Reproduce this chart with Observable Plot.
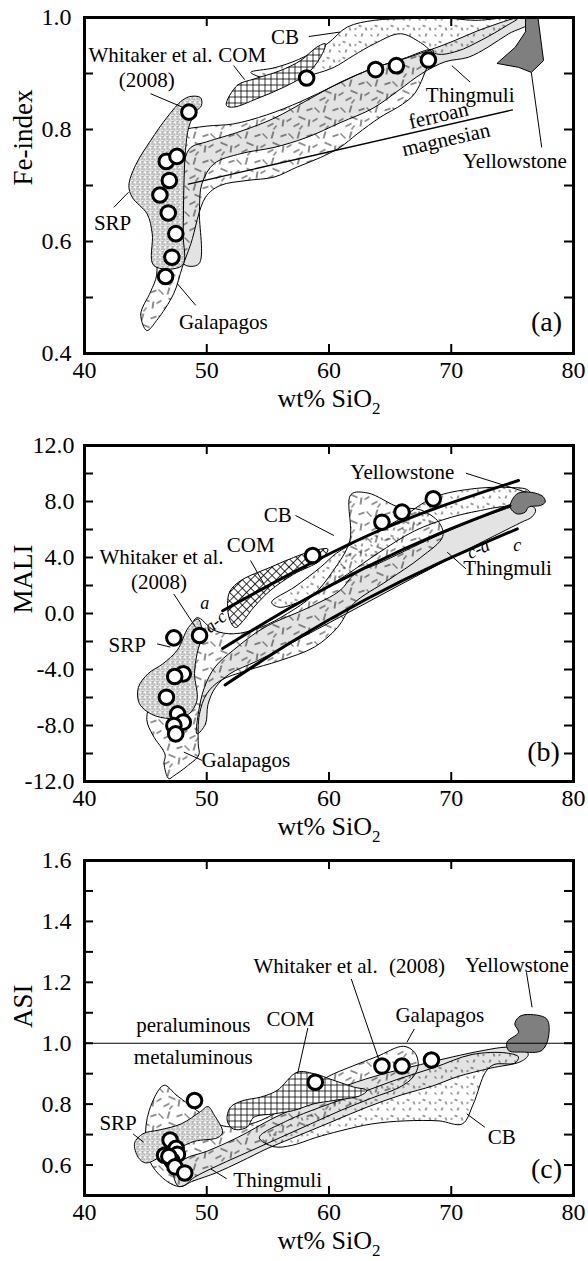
<!DOCTYPE html>
<html><head><meta charset="utf-8">
<script src="https://cdn.jsdelivr.net/npm/d3@7"></script>
<script src="https://cdn.jsdelivr.net/npm/@observablehq/plot@0.6"></script>
<style>
body{margin:0;background:#fff;}
#chart svg{display:block;overflow:visible;}
</style></head><body><div id="chart"></div>
<script>
// ---------- shared axis values ----------
const xDomain = [40, 80];
const xLabelTicks = [40, 50, 60, 70, 80];
const xInnerTicks = [50, 60, 70];

// ---------- panel (a) Fe-index ----------
const feDomain = [0.4, 1.0];
const feLabelTicks = [0.4, 0.6, 0.8, 1.0];
const feInnerTicks = [0.5, 0.6, 0.7, 0.8, 0.9];
const whitakerA = [[48.54,0.831],[46.69,0.743],[47.56,0.752],[46.94,0.709],[46.17,0.683],[46.85,0.651],[47.47,0.614],[47.15,0.572],[46.63,0.5375],[58.17,0.892],[63.81,0.907],[65.51,0.914],[68.13,0.924]];
const thingmuliA = [[48.1,0.56],[48.1,0.66],[48.2,0.745],[48.7,0.768],[50.0,0.778],[52.8,0.797],[55.5,0.82],[58.2,0.852],[60.9,0.884],[63.7,0.91],[66.4,0.928],[69.5,0.952],[73.0,0.983],[76.0,1.0],[76.4,0.99],[74.7,0.971],[73.0,0.947],[71.4,0.929],[69.5,0.921],[67.6,0.9],[65.7,0.87],[63.6,0.838],[60.9,0.812],[58.2,0.786],[55.5,0.768],[52.8,0.757],[50.6,0.739],[49.6,0.703],[49.4,0.655],[49.35,0.56]];
const galapagosA = [[45.1,0.441],[44.6,0.47],[45.4,0.51],[45.9,0.54],[45.7,0.614],[45.5,0.673],[45.7,0.75],[46.2,0.78],[47.6,0.797],[50.0,0.806],[52.2,0.81],[54.9,0.826],[57.7,0.85],[60.4,0.878],[63.1,0.905],[66.0,0.926],[68.5,0.942],[68.0,0.91],[67.0,0.864],[66.0,0.845],[64.2,0.822],[62.3,0.792],[60.9,0.768],[59.3,0.75],[57.4,0.733],[55.5,0.715],[53.3,0.709],[51.1,0.70],[49.9,0.679],[48.7,0.596],[48.0,0.554],[47.3,0.507],[45.9,0.459]];
const cbA = [[53.6,0.902],[55.5,0.91],[57.5,0.925],[59.85,0.953],[61.5,0.983],[63.7,0.995],[66.4,0.998],[69.0,1.0],[72.0,0.995],[75.5,1.0],[74.5,0.985],[72.5,0.96],[70.5,0.94],[68.8,0.935],[67.5,0.955],[65.85,0.971],[63.7,0.953],[62.0,0.932],[60.4,0.911],[58.8,0.899],[57.1,0.89],[55.5,0.8875]];
const comA = [[51.6,0.843],[52.5,0.879],[53.85,0.89],[56.0,0.905],[57.67,0.923],[59.0,0.947],[59.7,0.953],[59.3,0.929],[58.2,0.8995],[56.3,0.8755],[54.1,0.855],[52.2,0.84]];
const srpA = [[47.99,0.852],[48.67,0.859],[49.49,0.857],[49.57,0.843],[49.08,0.831],[48.53,0.804],[48.26,0.7625],[48.13,0.697],[48.07,0.614],[47.99,0.557],[45.67,0.557],[45.54,0.614],[45.13,0.649],[43.9,0.679],[43.63,0.70],[44.17,0.736],[45.4,0.78],[46.76,0.822]];
const yellowstoneA = [[76.11,0.998],[77.09,1.0],[77.55,0.923],[76.55,0.902],[75.51,0.911],[73.74,0.918],[75.24,0.947],[76.06,0.974]];
const ferroanBoundary = [[48.5,0.7025],[75.0,0.835]];
const labelsA = [
  {t:"CB", x:56.4, y:0.965},
  {t:"Whitaker et al.", x:45.4, y:0.932},
  {t:"COM", x:52.9, y:0.932},
  {t:"(2008)", x:45.1, y:0.8875},
  {t:"SRP", x:42.3, y:0.632},
  {t:"Galapagos", x:51.35, y:0.456},
  {t:"Thingmuli", x:71.55, y:0.861},
  {t:"Yellowstone", x:75.2, y:0.743}
];
const rotatedLabelsA = [{t:"ferroan", x:68.96, y:0.825}, {t:"magnesian", x:69.56, y:0.782}];
const leadersA = [[58.35,0.966,60.9,0.974],[52.2,0.914,53.1,0.889],[45.4,0.864,48.0,0.84],[42.4,0.661,43.6,0.688],[47.6,0.5245,49.1,0.486],[71.55,0.8845,70.05,0.914],[77.4,0.768,76.55,0.902]];

// ---------- panel (b) MALI ----------
const maliDomain = [-12, 12];
const maliLabelTicks = [-12, -8, -4, 0, 4, 8, 12];
const maliInnerTicks = [-10, -8, -6, -4, -2, 0, 2, 4, 6, 8, 10];
const whitakerB = [[47.31,-1.74],[49.41,-1.57],[48.08,-4.31],[47.38,-4.5],[46.7,-5.98],[47.62,-7.17],[48.08,-7.76],[47.31,-8.0],[47.46,-8.6],[58.66,4.14],[64.33,6.52],[65.97,7.24],[68.53,8.19]];
const thingmuliB = [[49.2,-8.6],[49.9,-7.9],[50.1,-6.5],[50.7,-5.3],[51.9,-4.3],[54.1,-3.4],[57.8,-1.7],[62.4,0.45],[67.0,2.6],[71.7,4.74],[75.7,6.5],[76.6,6.9],[76.9,7.4],[76.3,7.8],[73.2,7.1],[68.6,5.45],[64.0,3.55],[62.1,2.83],[60.9,1.64],[58.4,0.45],[54.7,-1.0],[52.2,-2.6],[50.7,-3.8],[49.8,-5.3],[49.3,-7.2]];
const galapagosB = [[46.9,-11.8],[46.5,-10.7],[46.6,-10.1],[45.6,-8.7],[45.1,-7.6],[45.5,-6.0],[46.2,-4.55],[47.6,-3.4],[48.5,-1.5],[49.2,-0.3],[50.6,-1.2],[52.2,-1.45],[54.4,-1.0],[56.6,0.0],[58.7,1.3],[60.3,3.0],[61.7,5.2],[61.8,8.5],[63.2,8.6],[65.7,7.6],[67.5,7.4],[69.0,6.5],[69.3,5.5],[67.5,4.0],[64.8,2.36],[62.0,0.7],[60.7,-1.0],[58.8,-2.4],[56.0,-3.36],[53.3,-4.07],[51.1,-4.8],[50.0,-5.74],[49.4,-7.2],[49.3,-9.3],[49.35,-10.1],[48.4,-10.9],[47.3,-11.6]];
const cbB = [[55.3,0.8],[57.2,1.9],[59.3,3.3],[60.6,4.3],[62.4,5.2],[65.5,6.6],[68.6,8.3],[71.7,8.9],[74.8,9.0],[76.3,8.8],[76.6,8.1],[73.2,7.5],[70.1,6.9],[67.0,5.9],[64.0,4.3],[61.5,2.8],[59.3,1.6],[57.5,0.8],[55.9,0.45]];
const comB = [[51.7,0.7],[51.9,1.6],[52.8,2.36],[55.2,3.3],[57.1,4.0],[58.8,4.5],[59.9,4.6],[59.3,3.8],[57.1,2.8],[55.2,1.64],[53.85,0.45],[53.0,-0.5],[52.35,-1.0],[51.9,-0.5]];
const srpB = [[49.3,-0.4],[49.6,-1.45],[49.2,-2.9],[49.0,-4.3],[49.2,-6.2],[48.5,-7.2],[47.0,-7.5],[45.5,-7.2],[44.5,-6.45],[44.4,-5.3],[45.2,-4.3],[46.4,-3.6],[47.6,-2.6],[48.5,-1.0]];
const yellowstoneB = [[75.23,8.43],[75.77,8.67],[76.86,8.6],[77.55,8.31],[77.68,7.95],[77.27,7.71],[76.32,7.6],[76.05,7.24],[75.36,7.12],[74.82,7.6]];
const maliAlkalic = [[51.3,0.2],[57,2.9],[63,5.5],[69,7.6],[75.5,9.5]];
const maliAlkaliCalcic = [[51.3,-2.5],[57,0.5],[63,3.3],[69,5.7],[74.8,7.7]];
const maliCalcAlkalic = [[51.5,-5.1],[57,-2.0],[63,1.0],[69,3.6],[75.4,6.05]];
const labelsB = [
  {t:"Yellowstone", x:66.0, y:10.1},
  {t:"CB", x:55.8, y:7.05},
  {t:"COM", x:53.6, y:4.86},
  {t:"Whitaker et al.", x:46.3, y:4.0},
  {t:"(2008)", x:46.1, y:2.2},
  {t:"SRP", x:43.5, y:-2.3},
  {t:"Galapagos", x:53.2, y:-10.5},
  {t:"Thingmuli", x:74.6, y:3.25}
];
const fieldLetters = [{t:"a", x:49.84, y:0.7, r:0},{t:"a-c", x:50.7, y:-0.6, r:-40},{t:"c-a", x:72.2, y:4.6, r:-25},{t:"c", x:75.4, y:4.86, r:0}];
const leadersB = [[71.2,10.02,76.1,8.67],[57.26,7.0,60.4,5.57],[53.58,3.79,54.67,2.12],[47.3,1.4,49.1,-1.0],[45.94,-2.17,47.03,-2.4],[49.63,-10.5,48.13,-9.9],[71.2,3.19,69.67,4.38]];

// ---------- panel (c) ASI ----------
const asiDomain = [0.5, 1.6];
const asiLabelTicks = [0.6, 0.8, 1.0, 1.2, 1.4, 1.6];
const asiInnerTicks = [0.6, 0.7, 0.8, 0.9, 1.0, 1.1, 1.2, 1.3, 1.4, 1.5];
const whitakerC = [[49.0,0.812],[47.0,0.682],[47.5,0.655],[46.55,0.632],[47.6,0.635],[47.15,0.614],[46.9,0.628],[47.4,0.594],[48.2,0.574],[58.88,0.872],[64.33,0.925],[65.97,0.925],[68.38,0.945]];
const thingmuliC = [[47.7,0.53],[48.9,0.548],[50.8,0.575],[52.8,0.612],[55.0,0.655],[57.7,0.70],[60.4,0.745],[63.1,0.79],[65.9,0.83],[68.5,0.86],[70.5,0.89],[73.2,0.918],[75.7,0.94],[76.3,0.962],[76.0,0.98],[74.5,0.987],[72.6,0.976],[70.1,0.955],[67.5,0.93],[64.5,0.90],[61.5,0.862],[58.5,0.81],[55.5,0.755],[52.5,0.69],[50.0,0.645],[48.2,0.62],[47.3,0.58]];
const cbC = [[54.3,0.69],[55.5,0.66],[57.0,0.665],[58.9,0.69],[60.9,0.712],[63.5,0.735],[66.2,0.745],[69.0,0.745],[70.9,0.735],[71.8,0.80],[72.8,0.905],[73.5,0.93],[75.2,0.935],[75.5,0.955],[74.5,0.968],[71.7,0.963],[68.6,0.92],[65.5,0.88],[62.4,0.834],[59.3,0.79],[56.6,0.746]];
const galapagosC = [[46.5,0.862],[47.5,0.83],[48.5,0.80],[49.5,0.77],[50.5,0.74],[52.0,0.725],[54.0,0.74],[56.0,0.78],[58.0,0.84],[59.9,0.89],[61.8,0.923],[63.9,0.956],[66.1,0.99],[67.0,0.97],[67.3,0.93],[66.9,0.89],[65.8,0.856],[63.5,0.82],[61.0,0.78],[58.5,0.735],[56.0,0.69],[53.5,0.645],[51.0,0.60],[49.0,0.56],[48.0,0.53],[47.0,0.54],[45.5,0.60],[45.0,0.68],[45.3,0.78]];
const comC = [[51.94,0.79],[53.0,0.812],[54.4,0.823],[55.76,0.845],[57.4,0.905],[58.76,0.90],[60.4,0.878],[62.03,0.856],[63.1,0.845],[62.57,0.828],[60.4,0.812],[58.76,0.801],[57.1,0.779],[55.5,0.768],[53.85,0.757],[53.3,0.724],[52.2,0.718],[51.67,0.746]];
const srpC = [[44.1,0.672],[44.8,0.703],[46.1,0.715],[47.9,0.735],[49.5,0.776],[50.1,0.792],[50.6,0.765],[51.3,0.708],[50.9,0.69],[49.0,0.678],[47.7,0.655],[46.2,0.626],[45.0,0.607],[44.4,0.625]];
const yellowstoneC = [[75.5,1.085],[76.1,1.094],[77.8,1.08],[77.95,1.02],[77.4,0.976],[75.8,0.971],[74.7,0.976],[74.55,1.003],[75.5,1.036],[75.2,1.063]];
const aluminaBoundary = [1.0];
const labelsC = [
  {t:"peraluminous", x:48.9, y:1.058},
  {t:"metaluminous", x:48.9, y:0.954},
  {t:"COM", x:56.85, y:1.08},
  {t:"Whitaker et al.", x:58.9, y:1.252},
  {t:"(2008)", x:67.2, y:1.252},
  {t:"Yellowstone", x:75.37, y:1.255},
  {t:"Galapagos", x:69.06, y:1.091},
  {t:"SRP", x:42.75, y:0.738},
  {t:"Thingmuli", x:55.8, y:0.549},
  {t:"CB", x:74.14, y:0.691}
];
const leadersC = [[61.82,1.211,64.13,0.94],[76.15,1.233,76.61,1.118],[66.98,1.047,66.37,1.003],[58.27,1.05,57.43,0.9],[43.98,0.702,44.84,0.675],[51.63,0.555,50.34,0.587],[72.75,0.724,71.27,0.768]];

// ---------- drawing helpers ----------
const W = 588, ML = 84, MR = 15;
const FW = W - ML - MR;
const SERIF = "'Liberation Serif', 'Times New Roman', serif";

function patternDefs(s, comRotate) {
  return `
  <pattern id="gal${s}" patternUnits="userSpaceOnUse" width="26" height="26">
    <path d="M2,3 l5,5 M13,1 l-2,7 M20,6 l6,-2 M5,14 l-5,3 M12,12 l7,3 M23,15 l-1,7 M7,22 l6,-3 M16,21 l-3,4" stroke="#000" stroke-width="0.9" fill="none"/>
  </pattern>
  <pattern id="cb${s}" patternUnits="userSpaceOnUse" width="16" height="16">
    <path d="M2,2 l2,2 M10,1 l-1,3 M6,9 l3,1 M13,11 l1,3 M2,13 l2,-1" stroke="#000" stroke-width="0.8" fill="none"/>
  </pattern>
  <pattern id="srp${s}" patternUnits="userSpaceOnUse" width="5" height="5">
    <rect width="5" height="5" fill="#fff"/>
    <path d="M0.4,0.6 l1.3,1.1 M3.3,0.3 l-0.9,1.5 M0.8,3.3 l1.6,0.5 M3.6,2.9 l0.6,1.6" stroke="#000" stroke-width="0.75" fill="none"/>
  </pattern>
  <pattern id="com${s}" patternUnits="userSpaceOnUse" width="6" height="6" ${comRotate ? 'patternTransform="rotate(45)"' : ''}>
    <rect width="6" height="6" fill="#fff"/>
    <path d="M0,0.5 H6 M0.5,0 V6" stroke="#000" stroke-width="0.8" fill="none"/>
  </pattern>`;
}

const poly = (pts, o) => Plot.line(pts, {x: d => d[0], y: d => d[1], curve: "catmull-rom-closed", stroke: "black", strokeWidth: 1, clip: true, ...o});
const dots = pts => Plot.dot(pts, {x: d => d[0], y: d => d[1], r: 7.3, fill: "white", stroke: "black", strokeWidth: 3});
const leaders = L => Plot.link(L, {x1: d => d[0], y1: d => d[1], x2: d => d[2], y2: d => d[3], stroke: "black", strokeWidth: 1});
const labels = (L, o = {}) => Plot.text(L, {x: "x", y: "y", text: "t", fontSize: 21, fill: "black", ...o});

function frameTicks(yTicks, fh) {
  return [
    Plot.tickX(xInnerTicks, {x: d => d, insetTop: fh - 9, strokeWidth: 2}),
    Plot.tickX(xInnerTicks, {x: d => d, insetBottom: fh - 9, strokeWidth: 2}),
    Plot.tickY(yTicks, {y: d => d, insetRight: FW - 9, strokeWidth: 2}),
    Plot.tickY(yTicks, {y: d => d, insetLeft: FW - 9, strokeWidth: 2})
  ];
}

function makePanel({height, marginTop, marginBottom, yDomain, yLabelTicks, yInnerTicks, yPad, yTitle, tag, tagDx, tagDy, marks, sfx, comRotate}) {
  const fh = height - marginTop - marginBottom;
  const svg = Plot.plot({
    width: W, height, marginLeft: ML, marginRight: MR, marginTop, marginBottom,
    style: {fontFamily: SERIF, fontSize: "24px", color: "black", background: "none", overflow: "visible"},
    x: {domain: xDomain, ticks: xLabelTicks, tickSize: 0, tickPadding: 7, tickFormat: d => String(d), label: null},
    y: {domain: yDomain, ticks: yLabelTicks, tickSize: 0, tickPadding: yPad, tickFormat: d => d.toFixed(1), label: null},
    marks: [
      ...marks,
      ...frameTicks(yInnerTicks, fh),
      Plot.frame({stroke: "black", strokeWidth: 3}),
      Plot.text([yTitle], {frameAnchor: "left", dx: -61, rotate: -90, fontSize: 27, fill: "black"}),
      Plot.text(["wt% SiO₂"], {frameAnchor: "bottom", dy: 53, fontSize: 26, fill: "black"}),
      Plot.text([tag], {frameAnchor: "bottom-right", dx: tagDx, dy: tagDy, textAnchor: "middle", fontSize: 28, fill: "black"})
    ]
  });
  const defs = document.createElementNS("http://www.w3.org/2000/svg", "defs");
  defs.innerHTML = patternDefs(sfx, comRotate);
  svg.insertBefore(defs, svg.firstChild);
  svg.querySelectorAll("text").forEach(t => {
    if (t.textContent === "wt% SiO₂") {
      t.textContent = "wt% SiO";
      const ts = document.createElementNS("http://www.w3.org/2000/svg", "tspan");
      ts.setAttribute("dy", "0.45em");
      ts.setAttribute("font-size", "17");
      ts.textContent = "2";
      t.appendChild(ts);
    }
  });
  return svg;
}

const chart = document.getElementById("chart");

chart.appendChild(makePanel({
  height: 430, marginTop: 17, marginBottom: 77, yDomain: feDomain, yLabelTicks: feLabelTicks, yInnerTicks: feInnerTicks, yPad: 13,
  yTitle: "Fe-index", tag: "(a)", tagDx: -27, tagDy: -23, sfx: "a", comRotate: false,
  marks: [
    poly(thingmuliA, {fill: "#e3e3e3"}),
    poly(galapagosA, {fill: "url(#gala)"}),
    poly(cbA, {fill: "url(#cba)"}),
    poly(comA, {fill: "url(#coma)"}),
    poly(srpA, {fill: "url(#srpa)"}),
    poly(yellowstoneA, {fill: "#7f7f7f", curve: "linear-closed"}),
    Plot.line(ferroanBoundary, {x: d => d[0], y: d => d[1], stroke: "black", strokeWidth: 1.4}),
    leaders(leadersA),
    dots(whitakerA),
    labels(labelsA),
    labels(rotatedLabelsA, {rotate: -13})
  ]
}));

chart.appendChild(makePanel({
  height: 420, marginTop: 15, marginBottom: 69, yDomain: maliDomain, yLabelTicks: maliLabelTicks, yInnerTicks: maliInnerTicks, yPad: 10,
  yTitle: "MALI", tag: "(b)", tagDx: -30, tagDy: -21, sfx: "b", comRotate: true,
  marks: [
    poly(thingmuliB, {fill: "#e3e3e3"}),
    poly(galapagosB, {fill: "url(#galb)"}),
    poly(cbB, {fill: "url(#cbb)"}),
    poly(comB, {fill: "url(#comb)"}),
    poly(srpB, {fill: "url(#srpb)"}),
    poly(yellowstoneB, {fill: "#7f7f7f"}),
    Plot.line(maliAlkalic, {x: d => d[0], y: d => d[1], curve: "natural", stroke: "black", strokeWidth: 3}),
    Plot.line(maliAlkaliCalcic, {x: d => d[0], y: d => d[1], curve: "natural", stroke: "black", strokeWidth: 3}),
    Plot.line(maliCalcAlkalic, {x: d => d[0], y: d => d[1], curve: "natural", stroke: "black", strokeWidth: 3}),
    leaders(leadersB),
    dots(whitakerB),
    labels(labelsB),
    Plot.text(fieldLetters, {x: "x", y: "y", text: "t", rotate: "r", fontSize: 18, fontStyle: "italic", fill: "black"})
  ]
}));

chart.appendChild(makePanel({
  height: 411, marginTop: 10, marginBottom: 66, yDomain: asiDomain, yLabelTicks: asiLabelTicks, yInnerTicks: asiInnerTicks, yPad: 13,
  yTitle: "ASI", tag: "(c)", tagDx: -27, tagDy: -18, sfx: "c", comRotate: false,
  marks: [
    poly(thingmuliC, {fill: "#e3e3e3"}),
    poly(cbC, {fill: "url(#cbc)"}),
    poly(galapagosC, {fill: "url(#galc)"}),
    poly(comC, {fill: "url(#comc)"}),
    poly(srpC, {fill: "url(#srpc)"}),
    poly(yellowstoneC, {fill: "#7f7f7f"}),
    Plot.ruleY(aluminaBoundary, {stroke: "black", strokeWidth: 1.2}),
    leaders(leadersC),
    dots(whitakerC),
    labels(labelsC)
  ]
}));
</script></body></html>
